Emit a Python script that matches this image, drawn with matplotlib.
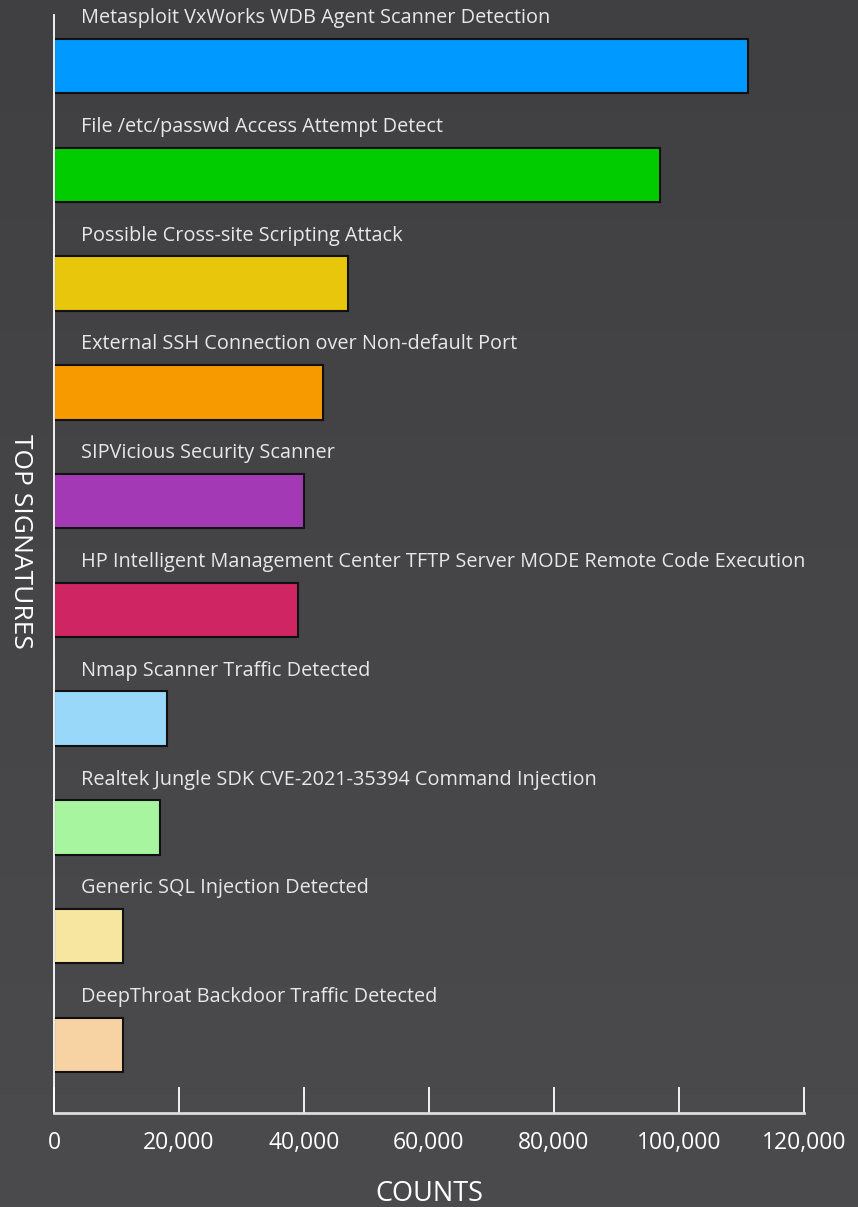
import numpy as np
import matplotlib
matplotlib.use("Agg")
import matplotlib.pyplot as plt

signatures = [
    "Metasploit VxWorks WDB Agent Scanner Detection",
    "File /etc/passwd Access Attempt Detect",
    "Possible Cross-site Scripting Attack",
    "External SSH Connection over Non-default Port",
    "SIPVicious Security Scanner",
    "HP Intelligent Management Center TFTP Server MODE Remote Code Execution",
    "Nmap Scanner Traffic Detected",
    "Realtek Jungle SDK CVE-2021-35394 Command Injection",
    "Generic SQL Injection Detected",
    "DeepThroat Backdoor Traffic Detected",
]
counts = [111000, 97000, 47000, 43000, 40000, 39000, 18000, 17000, 11000, 11000]
colors = ["#0099ff", "#00cc00", "#e8c60c", "#f79a00", "#a339b5",
          "#cf2663", "#99d8f8", "#a8f5a0", "#f7e6a0", "#f7d3a4"]
ticks = [0, 20000, 40000, 60000, 80000, 100000, 120000]

plt.rcParams['font.family'] = ['Open Sans', 'DejaVu Sans']

fig = plt.figure(figsize=(8.58, 12.07), dpi=100)

# background gradient
bg = fig.add_axes([0, 0, 1, 1])
grad = np.linspace(0, 1, 256).reshape(-1, 1)
bg.imshow(grad, aspect='auto', cmap=matplotlib.colors.LinearSegmentedColormap.from_list(
    "bg", ["#404042", "#4b4b4d"]), extent=[0, 1, 0, 1], origin='upper')
bg.axis('off')

W, H = 858, 1207
ax = fig.add_axes([54 / W, (H - 1113) / H, (804 - 54) / W, (1113 - 15) / H])
ax.patch.set_alpha(0)

y = np.arange(len(signatures))
ax.barh(y, counts, height=0.5, color=colors, edgecolor="#111111", linewidth=1.5)
for i, s in enumerate(signatures):
    ax.text(4300, y[i] - 0.44, s, color="#e8e8e8", fontsize=14.3, va='center', ha='left')

ax.set_xlim(0, 120000)
ax.set_ylim(9.625, -0.469)
ax.set_xticks(ticks)
ax.set_xticklabels([f"{t:,}" for t in ticks])
ax.set_yticks([])
ax.tick_params(axis='x', direction='in', length=19, width=1.3, colors='white',
               labelsize=16.5, pad=13)
for side in ['top', 'right']:
    ax.spines[side].set_visible(False)
ax.spines['left'].set_color('white')
ax.spines['left'].set_linewidth(1.3)
ax.spines['bottom'].set_color('#dddddd')
ax.spines['bottom'].set_linewidth(2)

ax.set_xlabel("COUNTS", color='white', fontsize=19.5, labelpad=18)
fig.text(20 / W, 1 - 541 / H, "TOP SIGNATURES", rotation=-90, color='white',
         fontsize=19, ha='center', va='center')

fig.savefig("out.png", dpi=100)
